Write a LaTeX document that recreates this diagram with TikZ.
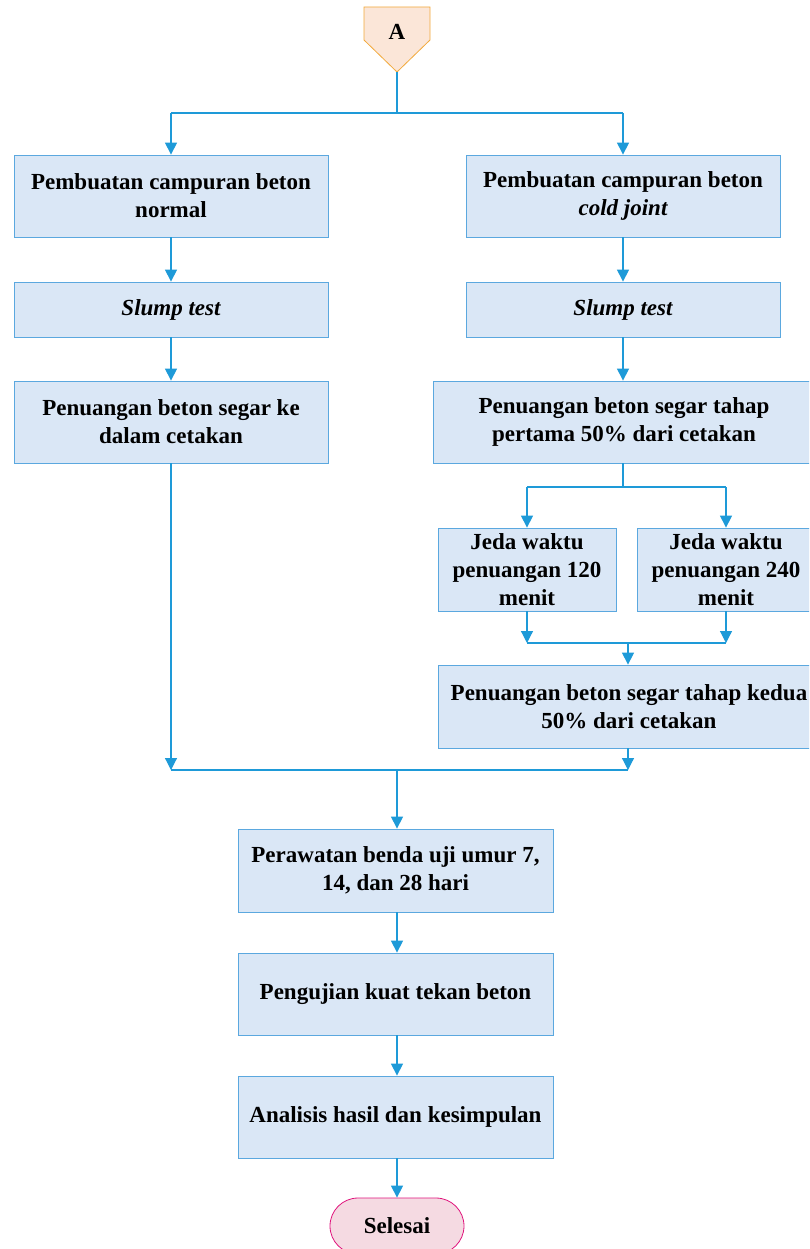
\documentclass[tikz,border=0pt]{standalone}
\usepackage{fontspec}
\setmainfont{LiberationSerif}[Extension=.ttf, UprightFont=*-Regular, BoldFont=*-Bold, ItalicFont=*-Italic, BoldItalicFont=*-BoldItalic]
\usetikzlibrary{arrows.meta,shapes.misc}
\definecolor{boxfill}{HTML}{DAE7F6}
\definecolor{boxline}{HTML}{5BA8DF}
\definecolor{arrline}{HTML}{1E9AD8}
\definecolor{afill}{HTML}{FBE6D8}
\definecolor{aline}{HTML}{F2A93B}
\definecolor{endfill}{HTML}{F5DAE2}
\definecolor{endline}{HTML}{E0157D}
\tikzset{
  box/.style={draw=boxline, fill=boxfill, line width=0.8pt, align=center,
    font=\bfseries\fontsize{23}{28}\selectfont, inner sep=0pt},
  arr/.style={draw=arrline, line width=1.2pt, -{Triangle[width=12pt,length=12pt]}},
  ln/.style={draw=arrline, line width=1.2pt},
}
\begin{document}
\begin{tikzpicture}[x=1pt,y=-1pt]
\clip (0,0) rectangle (809,1249);
% A connector
\draw[draw=aline, fill=afill, line width=0.8pt] (364,7) -- (430,7) -- (430,40) -- (397,72) -- (364,40) -- cycle;
\node[font=\bfseries\fontsize{23}{28}\selectfont] (A) at (397,32) {A};
\coordinate (Atip) at (397,72);
\coordinate (S1) at (397,113);
% left column
\node[box, minimum width=314pt, minimum height=82pt] (L1) at (171,196) {Pembuatan campuran beton\\normal};
\node[box, minimum width=314pt, minimum height=55pt] (L2) at (171,309.5) {\itshape Slump test};
\node[box, minimum width=314pt, minimum height=82pt] (L3) at (171,422) {Penuangan beton segar ke\\dalam cetakan};
% right column
\node[box, minimum width=314pt, minimum height=82pt] (R1) at (623,196) {Pembuatan campuran beton\\\itshape cold joint};
\node[box, minimum width=314pt, minimum height=55pt] (R2) at (623,309.5) {\itshape Slump test};
\node[box, minimum width=382pt, minimum height=82pt] (R3) at (624,422) {Penuangan beton segar tahap\\pertama 50\% dari cetakan};
\coordinate (S2) at (623,487);
\node[box, minimum width=178pt, minimum height=83pt] (J1) at (527,569.5) {Jeda waktu\\penuangan 120\\menit};
\node[box, minimum width=178pt, minimum height=83pt] (J2) at (726,569.5) {Jeda waktu\\penuangan 240\\menit};
\coordinate (M1) at (628,643);
\node[box, minimum width=382pt, minimum height=83pt] (K) at (629,706.5) {Penuangan beton segar tahap kedua\\50\% dari cetakan};
\coordinate (M2) at (397,770);
% bottom column
\node[box, minimum width=315pt, minimum height=83pt] (P1) at (395.5,870.5) {Perawatan benda uji umur 7,\\14, dan 28 hari};
\node[box, minimum width=315pt, minimum height=82pt] (P2) at (395.5,994) {Pengujian kuat tekan beton};
\node[box, minimum width=315pt, minimum height=82pt] (P3) at (395.5,1117) {Analisis hasil dan kesimpulan};
\node[draw=endline, fill=endfill, line width=0.8pt, rounded rectangle,
  minimum width=134pt, minimum height=56pt, inner sep=0pt,
  font=\bfseries\fontsize{23}{28}\selectfont] (E) at (397,1226) {Selesai};
% connectors
\draw[ln] (Atip) -- (S1);
\draw[ln] (L1.north |- S1) -- (R1.north |- S1);
\draw[arr] (S1 -| L1.north) -- (L1.north);
\draw[arr] (S1 -| R1.north) -- (R1.north);
\draw[arr] (L1) -- (L2);
\draw[arr] (L2) -- (L3);
\draw[arr] (R1) -- (R2);
\draw[arr] (R2.south) -- (R2.south |- R3.north);
\draw[ln] (R3.south -| S2) -- (S2);
\draw[ln] (S2 -| J1.north) -- (S2 -| J2.north);
\draw[arr] (S2 -| J1.north) -- (J1.north);
\draw[arr] (S2 -| J2.north) -- (J2.north);
\draw[arr] (J1.south) -- (J1.south |- M1);
\draw[arr] (J2.south) -- (J2.south |- M1);
\draw[ln] (M1 -| J1.south) -- (M1 -| J2.south);
\draw[arr] (M1) -- (M1 |- K.north);
\draw[arr] (L3.south) -- (L3.south |- M2);
\draw[arr] (K.south -| M1) -- (M1 |- M2);
\draw[ln] (M2 -| L3.south) -- (M2 -| M1);
\draw[arr] (M2) -- (M2 |- P1.north);
\draw[arr] (P1.south -| M2) -- (M2 |- P2.north);
\draw[arr] (P2.south -| M2) -- (M2 |- P3.north);
\draw[arr] (P3.south -| M2) -- (M2 |- E.north);
\end{tikzpicture}
\end{document}
